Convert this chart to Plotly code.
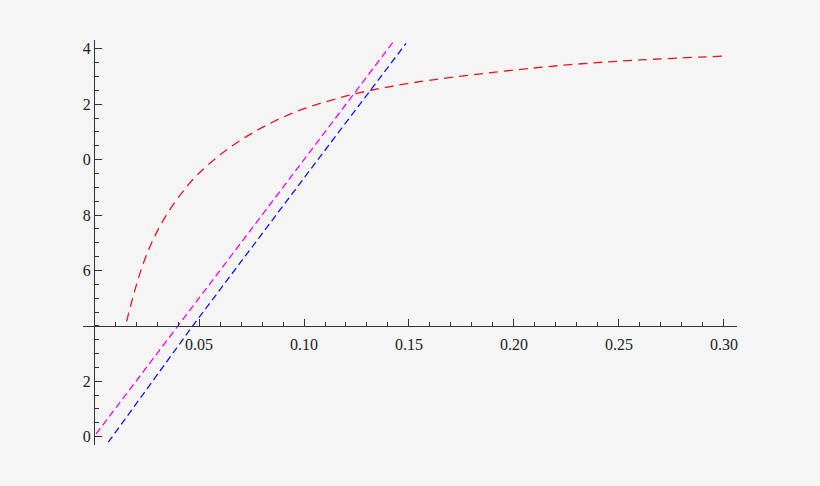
import plotly.graph_objects as go

# Red curve
red_x = [0.0155, 0.0195, 0.0235, 0.0282, 0.0338, 0.0410, 0.0489, 0.0608, 0.0727,
         0.0854, 0.0997, 0.1140, 0.1267, 0.1521, 0.1900, 0.2251, 0.2600, 0.3005]
red_y = [4.16, 5.30, 6.26, 7.12, 7.92, 8.72, 9.43, 10.22, 10.84,
         11.37, 11.83, 12.17, 12.42, 12.78, 13.15, 13.42, 13.60, 13.74]

# Magenta line
mag_x = [0.001, 0.0406, 0.0965, 0.1426]
mag_y = [0.10, 4.05, 9.66, 14.26]

# Blue line
blue_x = [0.0068, 0.0470, 0.1032, 0.1486]
blue_y = [-0.20, 4.00, 9.66, 14.20]

# Axis ticks
x_tickvals = [0.05, 0.10, 0.15, 0.20, 0.25, 0.30]
x_ticktext = ["0.05", "0.10", "0.15", "0.20", "0.25", "0.30"]
y_tickvals = [0, 2, 6, 8, 10, 12, 14]
y_ticktext = ["0", "2", "6", "8", "0", "2", "4"]

x_range = [-0.00524, 0.3062]
y_range = [-0.30, 14.32]
x_cross = 4.0   # y value where the x axis sits
y_cross = 0.0   # x value where the y axis sits

fig = go.Figure()
fig.add_trace(go.Scatter(x=red_x, y=red_y, mode="lines", line_shape="spline",
                         line=dict(color="#e8141a", width=1.3, dash="9px,6px")))
fig.add_trace(go.Scatter(x=mag_x, y=mag_y, mode="lines",
                         line=dict(color="#f000f0", width=1.3, dash="7px,4px")))
fig.add_trace(go.Scatter(x=blue_x, y=blue_y, mode="lines",
                         line=dict(color="#1414e6", width=1.3, dash="7px,4px")))

axis_font = dict(family="Liberation Serif", size=16, color="#222222")
fig.update_layout(
    width=820, height=486,
    paper_bgcolor="#f5f5f5", plot_bgcolor="#f5f5f5",
    margin=dict(l=83, r=83, t=40, b=41),
    showlegend=False,
    xaxis=dict(range=x_range, anchor="free",
               position=(x_cross - y_range[0]) / (y_range[1] - y_range[0]),
               showgrid=False, zeroline=False, showline=True,
               linecolor="#333333", linewidth=1.3,
               tickmode="array", tickvals=x_tickvals, ticktext=x_ticktext,
               ticks="inside", ticklen=7, tickwidth=1.2, tickcolor="#333333",
               ticklabelstandoff=4,
               minor=dict(dtick=0.01, tick0=0, ticks="inside", ticklen=4,
                          tickwidth=1, tickcolor="#333333", showgrid=False),
               tickfont=axis_font),
    yaxis=dict(range=y_range, anchor="free",
               position=(y_cross - x_range[0]) / (x_range[1] - x_range[0]),
               showgrid=False, zeroline=False, showline=True,
               linecolor="#333333", linewidth=1.3,
               tickmode="array", tickvals=y_tickvals, ticktext=y_ticktext,
               ticks="inside", ticklen=7, tickwidth=1.2, tickcolor="#333333",
               ticklabelstandoff=0,
               minor=dict(dtick=0.5, tick0=0, ticks="inside", ticklen=4,
                          tickwidth=1, tickcolor="#333333", showgrid=False),
               tickfont=axis_font),
)

fig.write_html(
    "out.html",
    config={"displayModeBar": False},
    post_script="document.body.style.margin='0';document.body.style.background='#f5f5f5';"
                "document.body.style.overflow='hidden';",
)
